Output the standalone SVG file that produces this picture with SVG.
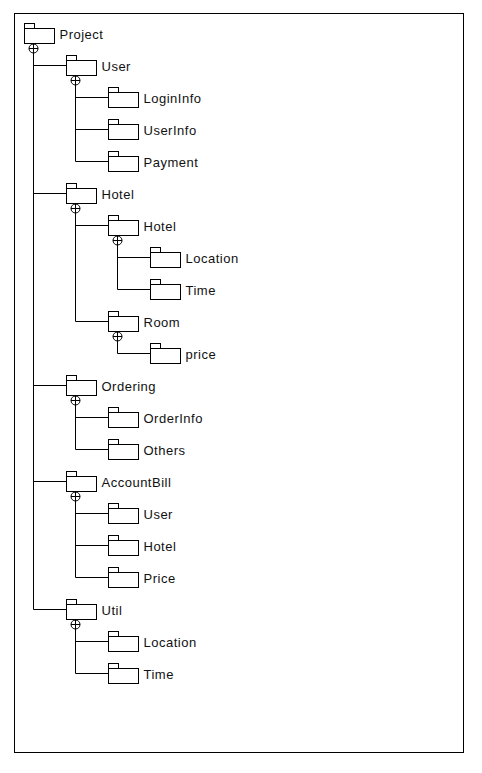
<svg xmlns="http://www.w3.org/2000/svg" width="482" height="773" viewBox="0 0 482 773">
<style>
.f{fill:#fff;stroke:#000;stroke-width:1}
.l{fill:none;stroke:#000;stroke-width:1}
.t{font-family:"Liberation Sans",Arial,sans-serif;font-size:13px;letter-spacing:0.5px;fill:#111}
</style>
<defs>
<g id="folder"><rect class="f" x="0" y="-5" width="10" height="5"/><rect class="f" x="0" y="0" width="30" height="15"/></g>
<g id="plus"><circle class="f" cx="9" cy="20" r="4.5"/><path class="l" d="M4.5 20H13.5M9 15.5V24.5"/></g>
</defs>
<rect x="0" y="0" width="482" height="773" fill="#fff"/>
<rect class="l" x="14.5" y="13.5" width="449" height="739"/>
<g id="connectors">
<path class="l" d="M33.5 53V609.5"/>
<path class="l" d="M33.5 65.5H66.5M33.5 193.5H66.5M33.5 385.5H66.5M33.5 481.5H66.5M33.5 609.5H66.5"/>
<path class="l" d="M75.5 85V161.5M75.5 97.5H108.5M75.5 129.5H108.5M75.5 161.5H108.5"/>
<path class="l" d="M75.5 213V321.5M75.5 225.5H108.5M75.5 321.5H108.5"/>
<path class="l" d="M117.5 245V289.5M117.5 257.5H150.5M117.5 289.5H150.5"/>
<path class="l" d="M117.5 341V353.5M117.5 353.5H150.5"/>
<path class="l" d="M75.5 405V449.5M75.5 417.5H108.5M75.5 449.5H108.5"/>
<path class="l" d="M75.5 501V577.5M75.5 513.5H108.5M75.5 545.5H108.5M75.5 577.5H108.5"/>
<path class="l" d="M75.5 629V673.5M75.5 641.5H108.5M75.5 673.5H108.5"/>
</g>
<g id="n-project" transform="translate(24.5 28.5)"><use href="#folder"/><use href="#plus"/><text class="t" x="35" y="10.5">Project</text></g>
<g id="n-user" transform="translate(66.5 60.5)"><use href="#folder"/><use href="#plus"/><text class="t" x="35" y="10.5">User</text></g>
<g id="n-logininfo" transform="translate(108.5 92.5)"><use href="#folder"/><text class="t" x="35" y="10.5">LoginInfo</text></g>
<g id="n-userinfo" transform="translate(108.5 124.5)"><use href="#folder"/><text class="t" x="35" y="10.5">UserInfo</text></g>
<g id="n-payment" transform="translate(108.5 156.5)"><use href="#folder"/><text class="t" x="35" y="10.5">Payment</text></g>
<g id="n-hotel" transform="translate(66.5 188.5)"><use href="#folder"/><use href="#plus"/><text class="t" x="35" y="10.5">Hotel</text></g>
<g id="n-hotel-hotel" transform="translate(108.5 220.5)"><use href="#folder"/><use href="#plus"/><text class="t" x="35" y="10.5">Hotel</text></g>
<g id="n-hotel-location" transform="translate(150.5 252.5)"><use href="#folder"/><text class="t" x="35" y="10.5">Location</text></g>
<g id="n-hotel-time" transform="translate(150.5 284.5)"><use href="#folder"/><text class="t" x="35" y="10.5">Time</text></g>
<g id="n-room" transform="translate(108.5 316.5)"><use href="#folder"/><use href="#plus"/><text class="t" x="35" y="10.5">Room</text></g>
<g id="n-price" transform="translate(150.5 348.5)"><use href="#folder"/><text class="t" x="35" y="10.5">price</text></g>
<g id="n-ordering" transform="translate(66.5 380.5)"><use href="#folder"/><use href="#plus"/><text class="t" x="35" y="10.5">Ordering</text></g>
<g id="n-orderinfo" transform="translate(108.5 412.5)"><use href="#folder"/><text class="t" x="35" y="10.5">OrderInfo</text></g>
<g id="n-others" transform="translate(108.5 444.5)"><use href="#folder"/><text class="t" x="35" y="10.5">Others</text></g>
<g id="n-accountbill" transform="translate(66.5 476.5)"><use href="#folder"/><use href="#plus"/><text class="t" x="35" y="10.5">AccountBill</text></g>
<g id="n-ab-user" transform="translate(108.5 508.5)"><use href="#folder"/><text class="t" x="35" y="10.5">User</text></g>
<g id="n-ab-hotel" transform="translate(108.5 540.5)"><use href="#folder"/><text class="t" x="35" y="10.5">Hotel</text></g>
<g id="n-ab-price" transform="translate(108.5 572.5)"><use href="#folder"/><text class="t" x="35" y="10.5">Price</text></g>
<g id="n-util" transform="translate(66.5 604.5)"><use href="#folder"/><use href="#plus"/><text class="t" x="35" y="10.5">Util</text></g>
<g id="n-util-location" transform="translate(108.5 636.5)"><use href="#folder"/><text class="t" x="35" y="10.5">Location</text></g>
<g id="n-util-time" transform="translate(108.5 668.5)"><use href="#folder"/><text class="t" x="35" y="10.5">Time</text></g>
</svg>
